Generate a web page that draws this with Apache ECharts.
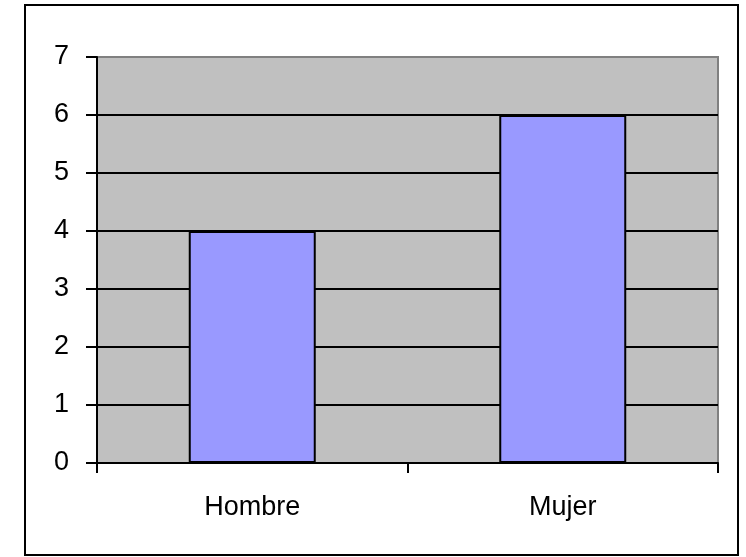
<!DOCTYPE html>
<html>
<head>
<meta charset="utf-8">
<script src="https://cdn.jsdelivr.net/npm/echarts@6/dist/echarts.min.js"></script>
<style>html,body{margin:0;padding:0;background:#fff;}#c{width:746px;height:557px;}</style>
</head>
<body>
<div id="c"></div>
<script>
var categories = ['Hombre', 'Mujer'];
var values = [4, 6];
var yTicks = [0, 1, 2, 3, 4, 5, 6, 7];

var chart = echarts.init(document.getElementById('c'), null, {renderer: 'canvas'});
var font = '"Liberation Sans", Arial, sans-serif';
chart.setOption({
  animation: false,
  graphic: [{
    type: 'rect', shape: {x: 25, y: 5, width: 713, height: 550},
    style: {fill: 'none', stroke: '#000', lineWidth: 2}, z: -1
  }],
  grid: {left: 97, right: 28, top: 57, bottom: 94, show: true,
         backgroundColor: '#C0C0C0', borderColor: '#808080', borderWidth: 2},
  xAxis: {
    type: 'category', data: categories,
    axisLine: {lineStyle: {color: '#000', width: 2}},
    axisTick: {show: true, length: 10, alignWithLabel: false, lineStyle: {color: '#000', width: 2}},
    axisLabel: {color: '#000', fontSize: 27, fontFamily: font, margin: 31}
  },
  yAxis: {
    type: 'value', min: yTicks[0], max: yTicks[yTicks.length - 1], interval: 1,
    axisLine: {show: true, lineStyle: {color: '#000', width: 2}},
    axisTick: {show: true, length: 11, lineStyle: {color: '#000', width: 2}},
    axisLabel: {color: '#000', fontSize: 27, fontFamily: font, margin: 28},
    splitLine: {show: true, lineStyle: {color: ['#000','#000','#000','#000','#000','#000','#000','#808080'], width: 2}}
  },
  series: [{
    type: 'bar', data: values, barWidth: 127,
    itemStyle: {color: '#9999FF', borderColor: '#000', borderWidth: 2}
  }]
});
</script>
</body>
</html>
